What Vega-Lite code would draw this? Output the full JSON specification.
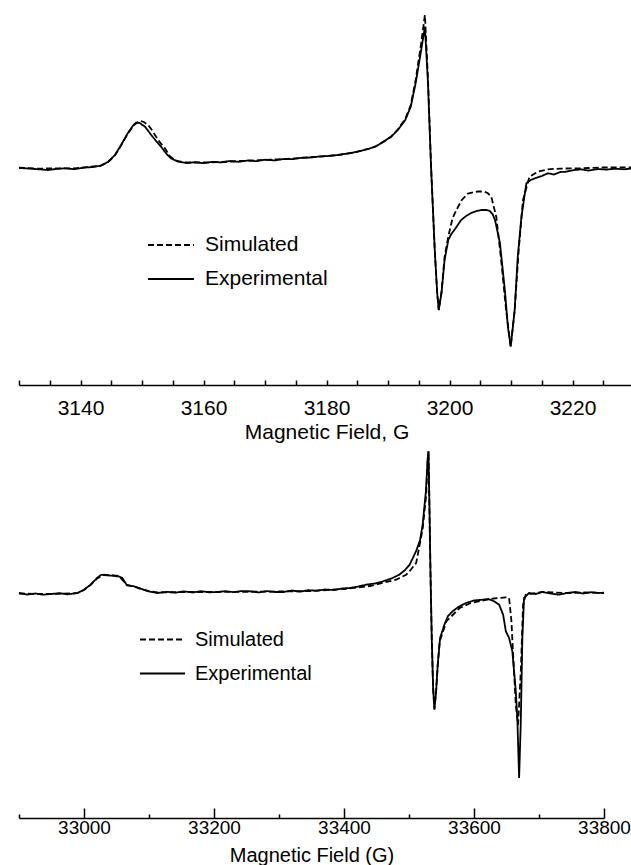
{
  "$schema": "https://vega.github.io/schema/vega-lite/v6.json",
  "padding": 5,
  "background": "white",
  "config": {
    "view": {"stroke": null},
    "font": "Liberation Sans",
    "axis": {"labelColor": "black", "titleColor": "black", "domainColor": "black", "tickColor": "black", "grid": false, "titleFontWeight": "normal", "labelFlush": false, "labelOverlap": false, "labelBound": false}
  },
  "datasets": {
    "top": [
      {"s": "Experimental", "x": 3130, "y": 0},
      {"s": "Experimental", "x": 3131.5, "y": -0.5},
      {"s": "Experimental", "x": 3133, "y": -1.2},
      {"s": "Experimental", "x": 3134.7, "y": -2},
      {"s": "Experimental", "x": 3136, "y": -1},
      {"s": "Experimental", "x": 3137.5, "y": -0.3},
      {"s": "Experimental", "x": 3139, "y": -1.2},
      {"s": "Experimental", "x": 3140.5, "y": 0.3},
      {"s": "Experimental", "x": 3142, "y": 1},
      {"s": "Experimental", "x": 3143.3, "y": 2.3},
      {"s": "Experimental", "x": 3144.5, "y": 6.3},
      {"s": "Experimental", "x": 3145.6, "y": 13},
      {"s": "Experimental", "x": 3146.6, "y": 23},
      {"s": "Experimental", "x": 3147.7, "y": 35},
      {"s": "Experimental", "x": 3148.5, "y": 42},
      {"s": "Experimental", "x": 3149, "y": 45.3},
      {"s": "Experimental", "x": 3149.6, "y": 45},
      {"s": "Experimental", "x": 3150.5, "y": 41.3},
      {"s": "Experimental", "x": 3151.5, "y": 33},
      {"s": "Experimental", "x": 3152.3, "y": 27},
      {"s": "Experimental", "x": 3153.1, "y": 21.3},
      {"s": "Experimental", "x": 3154, "y": 14},
      {"s": "Experimental", "x": 3154.7, "y": 9.7},
      {"s": "Experimental", "x": 3155.9, "y": 6.3},
      {"s": "Experimental", "x": 3157.3, "y": 5},
      {"s": "Experimental", "x": 3158.6, "y": 5.8},
      {"s": "Experimental", "x": 3160, "y": 4.8},
      {"s": "Experimental", "x": 3161.5, "y": 6.2},
      {"s": "Experimental", "x": 3162.9, "y": 5.6},
      {"s": "Experimental", "x": 3164.3, "y": 7},
      {"s": "Experimental", "x": 3165.7, "y": 6.2},
      {"s": "Experimental", "x": 3167.2, "y": 7.5},
      {"s": "Experimental", "x": 3168.6, "y": 6.8},
      {"s": "Experimental", "x": 3170, "y": 8.3},
      {"s": "Experimental", "x": 3171.6, "y": 7.6},
      {"s": "Experimental", "x": 3173, "y": 9},
      {"s": "Experimental", "x": 3174.4, "y": 8.8},
      {"s": "Experimental", "x": 3175.9, "y": 10.2},
      {"s": "Experimental", "x": 3177.3, "y": 10.5},
      {"s": "Experimental", "x": 3178.8, "y": 11.5},
      {"s": "Experimental", "x": 3180.2, "y": 12},
      {"s": "Experimental", "x": 3181.3, "y": 12.6},
      {"s": "Experimental", "x": 3182.4, "y": 13.5},
      {"s": "Experimental", "x": 3184, "y": 15},
      {"s": "Experimental", "x": 3185.5, "y": 17},
      {"s": "Experimental", "x": 3187, "y": 19.5},
      {"s": "Experimental", "x": 3187.9, "y": 21.3},
      {"s": "Experimental", "x": 3189.2, "y": 26},
      {"s": "Experimental", "x": 3190.5, "y": 31.3},
      {"s": "Experimental", "x": 3191.6, "y": 38},
      {"s": "Experimental", "x": 3192.8, "y": 48},
      {"s": "Experimental", "x": 3193.7, "y": 61.3},
      {"s": "Experimental", "x": 3194.5, "y": 85},
      {"s": "Experimental", "x": 3195.4, "y": 118},
      {"s": "Experimental", "x": 3196, "y": 141.3},
      {"s": "Experimental", "x": 3196.5, "y": 85},
      {"s": "Experimental", "x": 3197, "y": 1},
      {"s": "Experimental", "x": 3197.6, "y": -82},
      {"s": "Experimental", "x": 3198, "y": -125},
      {"s": "Experimental", "x": 3198.25, "y": -142},
      {"s": "Experimental", "x": 3198.7, "y": -125},
      {"s": "Experimental", "x": 3199.2, "y": -92},
      {"s": "Experimental", "x": 3199.8, "y": -72},
      {"s": "Experimental", "x": 3200.3, "y": -66},
      {"s": "Experimental", "x": 3200.9, "y": -61},
      {"s": "Experimental", "x": 3201.9, "y": -52},
      {"s": "Experimental", "x": 3202.7, "y": -48},
      {"s": "Experimental", "x": 3203.5, "y": -45},
      {"s": "Experimental", "x": 3204.4, "y": -43},
      {"s": "Experimental", "x": 3205.2, "y": -42},
      {"s": "Experimental", "x": 3206, "y": -42},
      {"s": "Experimental", "x": 3206.5, "y": -42.7},
      {"s": "Experimental", "x": 3207, "y": -46},
      {"s": "Experimental", "x": 3207.4, "y": -52},
      {"s": "Experimental", "x": 3208.2, "y": -75},
      {"s": "Experimental", "x": 3209, "y": -122},
      {"s": "Experimental", "x": 3209.5, "y": -159},
      {"s": "Experimental", "x": 3209.95, "y": -178.7},
      {"s": "Experimental", "x": 3210.6, "y": -142},
      {"s": "Experimental", "x": 3211.1, "y": -88.7},
      {"s": "Experimental", "x": 3211.7, "y": -48.7},
      {"s": "Experimental", "x": 3212.5, "y": -15.3},
      {"s": "Experimental", "x": 3213.2, "y": -12},
      {"s": "Experimental", "x": 3213.9, "y": -10.3},
      {"s": "Experimental", "x": 3215, "y": -8},
      {"s": "Experimental", "x": 3216, "y": -5.3},
      {"s": "Experimental", "x": 3217, "y": -6.5},
      {"s": "Experimental", "x": 3218, "y": -4},
      {"s": "Experimental", "x": 3219, "y": -3.7},
      {"s": "Experimental", "x": 3220, "y": -2.3},
      {"s": "Experimental", "x": 3221.4, "y": -1.3},
      {"s": "Experimental", "x": 3222.6, "y": -2.6},
      {"s": "Experimental", "x": 3224.1, "y": -1},
      {"s": "Experimental", "x": 3225.5, "y": -1.6},
      {"s": "Experimental", "x": 3226.9, "y": -0.7},
      {"s": "Experimental", "x": 3228.4, "y": -1.3},
      {"s": "Experimental", "x": 3230, "y": -0.3},
      {"s": "Simulated", "x": 3130, "y": 0.3},
      {"s": "Simulated", "x": 3133, "y": -0.6},
      {"s": "Simulated", "x": 3136, "y": -0.4},
      {"s": "Simulated", "x": 3139, "y": -0.3},
      {"s": "Simulated", "x": 3141, "y": 0.8},
      {"s": "Simulated", "x": 3143.3, "y": 2.3},
      {"s": "Simulated", "x": 3144.5, "y": 6},
      {"s": "Simulated", "x": 3145.6, "y": 12.5},
      {"s": "Simulated", "x": 3146.6, "y": 22.5},
      {"s": "Simulated", "x": 3147.7, "y": 34.5},
      {"s": "Simulated", "x": 3148.7, "y": 43},
      {"s": "Simulated", "x": 3149.6, "y": 47.3},
      {"s": "Simulated", "x": 3150.3, "y": 46},
      {"s": "Simulated", "x": 3151, "y": 43},
      {"s": "Simulated", "x": 3151.6, "y": 38},
      {"s": "Simulated", "x": 3152.3, "y": 31.3},
      {"s": "Simulated", "x": 3153, "y": 25},
      {"s": "Simulated", "x": 3153.7, "y": 20},
      {"s": "Simulated", "x": 3154.5, "y": 12},
      {"s": "Simulated", "x": 3155.5, "y": 7.5},
      {"s": "Simulated", "x": 3157, "y": 5.5},
      {"s": "Simulated", "x": 3160, "y": 5.5},
      {"s": "Simulated", "x": 3163, "y": 6},
      {"s": "Simulated", "x": 3166, "y": 7},
      {"s": "Simulated", "x": 3169, "y": 7.8},
      {"s": "Simulated", "x": 3172, "y": 8.6},
      {"s": "Simulated", "x": 3175, "y": 9.6},
      {"s": "Simulated", "x": 3178, "y": 11},
      {"s": "Simulated", "x": 3180.2, "y": 12},
      {"s": "Simulated", "x": 3182.4, "y": 13.5},
      {"s": "Simulated", "x": 3184, "y": 15},
      {"s": "Simulated", "x": 3185.5, "y": 17},
      {"s": "Simulated", "x": 3187, "y": 19.5},
      {"s": "Simulated", "x": 3187.9, "y": 21.3},
      {"s": "Simulated", "x": 3189.2, "y": 26},
      {"s": "Simulated", "x": 3190.5, "y": 31.3},
      {"s": "Simulated", "x": 3191.6, "y": 38.5},
      {"s": "Simulated", "x": 3192.8, "y": 49},
      {"s": "Simulated", "x": 3193.7, "y": 63},
      {"s": "Simulated", "x": 3194.5, "y": 88},
      {"s": "Simulated", "x": 3195.4, "y": 125},
      {"s": "Simulated", "x": 3196, "y": 153},
      {"s": "Simulated", "x": 3196.5, "y": 90},
      {"s": "Simulated", "x": 3197, "y": 2},
      {"s": "Simulated", "x": 3197.6, "y": -82},
      {"s": "Simulated", "x": 3198, "y": -125},
      {"s": "Simulated", "x": 3198.25, "y": -142},
      {"s": "Simulated", "x": 3198.7, "y": -124},
      {"s": "Simulated", "x": 3199.2, "y": -89},
      {"s": "Simulated", "x": 3199.8, "y": -68.7},
      {"s": "Simulated", "x": 3200.5, "y": -50},
      {"s": "Simulated", "x": 3201.4, "y": -38.7},
      {"s": "Simulated", "x": 3202, "y": -32},
      {"s": "Simulated", "x": 3203, "y": -25.5},
      {"s": "Simulated", "x": 3204.6, "y": -23.5},
      {"s": "Simulated", "x": 3205.6, "y": -23.5},
      {"s": "Simulated", "x": 3206.2, "y": -25},
      {"s": "Simulated", "x": 3206.8, "y": -28.7},
      {"s": "Simulated", "x": 3207.6, "y": -48.7},
      {"s": "Simulated", "x": 3208.4, "y": -92},
      {"s": "Simulated", "x": 3209.2, "y": -142},
      {"s": "Simulated", "x": 3209.95, "y": -178.7},
      {"s": "Simulated", "x": 3210.6, "y": -142},
      {"s": "Simulated", "x": 3211.25, "y": -82},
      {"s": "Simulated", "x": 3211.95, "y": -32},
      {"s": "Simulated", "x": 3213, "y": -8.7},
      {"s": "Simulated", "x": 3214.4, "y": -3.7},
      {"s": "Simulated", "x": 3216, "y": -1.3},
      {"s": "Simulated", "x": 3218, "y": -0.6},
      {"s": "Simulated", "x": 3221.4, "y": -0.3},
      {"s": "Simulated", "x": 3225, "y": 0.5},
      {"s": "Simulated", "x": 3230, "y": 0.7}
    ],
    "bottom": [
      {"s": "Experimental", "x": 32900, "y": 2},
      {"s": "Experimental", "x": 32912, "y": 0.5},
      {"s": "Experimental", "x": 32925, "y": 1.5},
      {"s": "Experimental", "x": 32937, "y": 0.3},
      {"s": "Experimental", "x": 32949, "y": 1},
      {"s": "Experimental", "x": 32962, "y": 1.8},
      {"s": "Experimental", "x": 32975, "y": 0.7},
      {"s": "Experimental", "x": 32990, "y": 2},
      {"s": "Experimental", "x": 33000, "y": 5.3},
      {"s": "Experimental", "x": 33010, "y": 10.3},
      {"s": "Experimental", "x": 33020, "y": 17},
      {"s": "Experimental", "x": 33026, "y": 20},
      {"s": "Experimental", "x": 33031, "y": 20.3},
      {"s": "Experimental", "x": 33040, "y": 19.5},
      {"s": "Experimental", "x": 33051, "y": 19.3},
      {"s": "Experimental", "x": 33059, "y": 17},
      {"s": "Experimental", "x": 33066, "y": 9.7},
      {"s": "Experimental", "x": 33077, "y": 8.7},
      {"s": "Experimental", "x": 33092, "y": 5.3},
      {"s": "Experimental", "x": 33100, "y": 3.5},
      {"s": "Experimental", "x": 33113, "y": 2},
      {"s": "Experimental", "x": 33128, "y": 3.2},
      {"s": "Experimental", "x": 33141, "y": 2.3},
      {"s": "Experimental", "x": 33153, "y": 3.7},
      {"s": "Experimental", "x": 33167, "y": 2.5},
      {"s": "Experimental", "x": 33180, "y": 3.8},
      {"s": "Experimental", "x": 33193, "y": 2.7},
      {"s": "Experimental", "x": 33205, "y": 3},
      {"s": "Experimental", "x": 33218, "y": 3.9},
      {"s": "Experimental", "x": 33230, "y": 2.8},
      {"s": "Experimental", "x": 33243, "y": 4},
      {"s": "Experimental", "x": 33256, "y": 3.7},
      {"s": "Experimental", "x": 33269, "y": 2.6},
      {"s": "Experimental", "x": 33281, "y": 3.9},
      {"s": "Experimental", "x": 33294, "y": 3},
      {"s": "Experimental", "x": 33307, "y": 3},
      {"s": "Experimental", "x": 33320, "y": 4.5},
      {"s": "Experimental", "x": 33332, "y": 3.3},
      {"s": "Experimental", "x": 33345, "y": 4.8},
      {"s": "Experimental", "x": 33358, "y": 4.3},
      {"s": "Experimental", "x": 33371, "y": 5.5},
      {"s": "Experimental", "x": 33384, "y": 5},
      {"s": "Experimental", "x": 33397, "y": 6.5},
      {"s": "Experimental", "x": 33409, "y": 7},
      {"s": "Experimental", "x": 33422, "y": 8.5},
      {"s": "Experimental", "x": 33434, "y": 10.3},
      {"s": "Experimental", "x": 33447, "y": 11.5},
      {"s": "Experimental", "x": 33460, "y": 13.7},
      {"s": "Experimental", "x": 33473, "y": 16.5},
      {"s": "Experimental", "x": 33485, "y": 20.3},
      {"s": "Experimental", "x": 33494, "y": 25},
      {"s": "Experimental", "x": 33501, "y": 30.3},
      {"s": "Experimental", "x": 33511, "y": 44},
      {"s": "Experimental", "x": 33517, "y": 55},
      {"s": "Experimental", "x": 33521, "y": 70.3},
      {"s": "Experimental", "x": 33526, "y": 103.7},
      {"s": "Experimental", "x": 33528.8, "y": 137},
      {"s": "Experimental", "x": 33530, "y": 143.7},
      {"s": "Experimental", "x": 33531.4, "y": 90.3},
      {"s": "Experimental", "x": 33533, "y": 24},
      {"s": "Experimental", "x": 33535, "y": -43},
      {"s": "Experimental", "x": 33537.1, "y": -93},
      {"s": "Experimental", "x": 33539.1, "y": -114.7},
      {"s": "Experimental", "x": 33541.7, "y": -96.3},
      {"s": "Experimental", "x": 33544.2, "y": -69.7},
      {"s": "Experimental", "x": 33547.8, "y": -43},
      {"s": "Experimental", "x": 33554.4, "y": -29.7},
      {"s": "Experimental", "x": 33560, "y": -21},
      {"s": "Experimental", "x": 33567.1, "y": -16.3},
      {"s": "Experimental", "x": 33577, "y": -11.5},
      {"s": "Experimental", "x": 33587.7, "y": -8},
      {"s": "Experimental", "x": 33600, "y": -5.5},
      {"s": "Experimental", "x": 33613, "y": -4.7},
      {"s": "Experimental", "x": 33622, "y": -4},
      {"s": "Experimental", "x": 33631, "y": -6.3},
      {"s": "Experimental", "x": 33638.7, "y": -9.7},
      {"s": "Experimental", "x": 33644.8, "y": -19.7},
      {"s": "Experimental", "x": 33649, "y": -36.3},
      {"s": "Experimental", "x": 33654, "y": -43},
      {"s": "Experimental", "x": 33659, "y": -56.3},
      {"s": "Experimental", "x": 33664.3, "y": -96.3},
      {"s": "Experimental", "x": 33666.8, "y": -126.3},
      {"s": "Experimental", "x": 33669.4, "y": -183},
      {"s": "Experimental", "x": 33672, "y": -126.3},
      {"s": "Experimental", "x": 33674.4, "y": -43},
      {"s": "Experimental", "x": 33677, "y": -3},
      {"s": "Experimental", "x": 33684.7, "y": 2},
      {"s": "Experimental", "x": 33695, "y": 1},
      {"s": "Experimental", "x": 33705, "y": 3},
      {"s": "Experimental", "x": 33718, "y": 1.5},
      {"s": "Experimental", "x": 33730.6, "y": 0.3},
      {"s": "Experimental", "x": 33743, "y": 2},
      {"s": "Experimental", "x": 33756, "y": 3},
      {"s": "Experimental", "x": 33768, "y": 1.5},
      {"s": "Experimental", "x": 33780, "y": 2.8},
      {"s": "Experimental", "x": 33792, "y": 2},
      {"s": "Experimental", "x": 33800, "y": 2.3},
      {"s": "Simulated", "x": 32900, "y": 1.5},
      {"s": "Simulated", "x": 32930, "y": 1},
      {"s": "Simulated", "x": 32960, "y": 1.2},
      {"s": "Simulated", "x": 32990, "y": 1.8},
      {"s": "Simulated", "x": 33000, "y": 5},
      {"s": "Simulated", "x": 33010, "y": 10},
      {"s": "Simulated", "x": 33020, "y": 16.5},
      {"s": "Simulated", "x": 33030, "y": 20},
      {"s": "Simulated", "x": 33045, "y": 19.5},
      {"s": "Simulated", "x": 33055, "y": 18},
      {"s": "Simulated", "x": 33066, "y": 10},
      {"s": "Simulated", "x": 33077, "y": 8.5},
      {"s": "Simulated", "x": 33092, "y": 5},
      {"s": "Simulated", "x": 33113, "y": 2.5},
      {"s": "Simulated", "x": 33150, "y": 3},
      {"s": "Simulated", "x": 33200, "y": 3},
      {"s": "Simulated", "x": 33250, "y": 3.2},
      {"s": "Simulated", "x": 33300, "y": 3.5},
      {"s": "Simulated", "x": 33350, "y": 4},
      {"s": "Simulated", "x": 33400, "y": 6},
      {"s": "Simulated", "x": 33440, "y": 9},
      {"s": "Simulated", "x": 33480, "y": 15.3},
      {"s": "Simulated", "x": 33495.7, "y": 20.3},
      {"s": "Simulated", "x": 33500.8, "y": 23.7},
      {"s": "Simulated", "x": 33511, "y": 32},
      {"s": "Simulated", "x": 33513.5, "y": 40.3},
      {"s": "Simulated", "x": 33521.2, "y": 67},
      {"s": "Simulated", "x": 33526.4, "y": 100},
      {"s": "Simulated", "x": 33528.8, "y": 135},
      {"s": "Simulated", "x": 33530, "y": 143.7},
      {"s": "Simulated", "x": 33531.4, "y": 90.3},
      {"s": "Simulated", "x": 33533, "y": 24},
      {"s": "Simulated", "x": 33535, "y": -43},
      {"s": "Simulated", "x": 33537.1, "y": -93},
      {"s": "Simulated", "x": 33539.1, "y": -114},
      {"s": "Simulated", "x": 33541.7, "y": -96},
      {"s": "Simulated", "x": 33544.2, "y": -70},
      {"s": "Simulated", "x": 33547.3, "y": -46.3},
      {"s": "Simulated", "x": 33557.5, "y": -26.3},
      {"s": "Simulated", "x": 33577.9, "y": -13},
      {"s": "Simulated", "x": 33595, "y": -8},
      {"s": "Simulated", "x": 33613.1, "y": -5.7},
      {"s": "Simulated", "x": 33630, "y": -3.5},
      {"s": "Simulated", "x": 33649, "y": -2.3},
      {"s": "Simulated", "x": 33654, "y": -3},
      {"s": "Simulated", "x": 33657.6, "y": -26.3},
      {"s": "Simulated", "x": 33660.2, "y": -59.7},
      {"s": "Simulated", "x": 33664.3, "y": -109.7},
      {"s": "Simulated", "x": 33667.8, "y": -129.7},
      {"s": "Simulated", "x": 33672, "y": -76.3},
      {"s": "Simulated", "x": 33675.5, "y": -9.7},
      {"s": "Simulated", "x": 33679.6, "y": 0.3},
      {"s": "Simulated", "x": 33705, "y": 3},
      {"s": "Simulated", "x": 33740, "y": 2},
      {"s": "Simulated", "x": 33770, "y": 2.5},
      {"s": "Simulated", "x": 33800, "y": 2}
    ]
  },
  "concat": [
    {
      "width": 615,
      "height": 380,
      "data": {"name": "top"},
      "mark": {"type": "line", "color": "black", "strokeWidth": 1.8},
      "encoding": {
        "x": {
          "field": "x", "type": "quantitative",
          "scale": {"domain": [3130, 3230], "nice": false, "zero": false},
          "axis": {
            "title": "Magnetic Field, G", "titleFontSize": 21, "labelFontSize": 21,
            "values": [3130, 3135, 3140, 3145, 3150, 3155, 3160, 3165, 3170, 3175, 3180, 3185, 3190, 3195, 3200, 3205, 3210, 3215, 3220, 3225, 3230],
            "labelExpr": "datum.value % 20 == 0 ? datum.label : ''",
            "format": "d", "tickSize": -5, "labelPadding": 17, "titlePadding": 3, "domainWidth": 1.5, "tickWidth": 1.5
          }
        },
        "y": {
          "field": "y", "type": "quantitative",
          "scale": {"domain": [-217, 163], "nice": false, "zero": false},
          "axis": {"title": null, "labels": false, "domain": false, "grid": false, "ticks": true, "tickSize": 6, "tickColor": "transparent", "values": [0]}
        },
        "strokeDash": {
          "field": "s", "type": "nominal",
          "scale": {"domain": ["Simulated", "Experimental"], "range": [[6, 3], [1, 0]]},
          "legend": {"orient": "none", "legendX": 128, "legendY": 216, "title": null, "symbolType": "stroke", "symbolSize": 2116, "symbolStrokeWidth": 1.8, "symbolStrokeColor": "black", "labelFontSize": 21, "labelColor": "black", "labelOffset": 10, "rowPadding": -9, "padding": 0}
        }
      }
    },
    {
      "width": 585,
      "height": 372,
      "data": {"name": "bottom"},
      "mark": {"type": "line", "color": "black", "strokeWidth": 1.8},
      "encoding": {
        "x": {
          "field": "x", "type": "quantitative",
          "scale": {"domain": [32900, 33800], "nice": false, "zero": false},
          "axis": {
            "title": "Magnetic Field (G)", "titleFontSize": 20, "labelFontSize": 19,
            "values": [32900, 33000, 33100, 33200, 33300, 33400, 33500, 33600, 33700, 33800],
            "labelExpr": "datum.value % 200 == 0 ? datum.label : ''",
            "format": "d",
            "tickSize": {"condition": {"test": "datum.value % 200 == 0", "value": -10}, "value": -4},
            "labelPadding": 10, "titlePadding": 2, "domainWidth": 1.5, "tickWidth": 1.5
          }
        },
        "y": {
          "field": "y", "type": "quantitative",
          "scale": {"domain": [-223, 149], "nice": false, "zero": false},
          "axis": {"title": null, "labels": false, "domain": false, "grid": false, "ticks": true, "tickSize": 13, "tickColor": "transparent", "values": [0]}
        },
        "strokeDash": {
          "field": "s", "type": "nominal",
          "scale": {"domain": ["Simulated", "Experimental"], "range": [[6, 3], [1, 0]]},
          "legend": {"orient": "none", "legendX": 120, "legendY": 170, "title": null, "symbolType": "stroke", "symbolSize": 2025, "symbolStrokeWidth": 1.8, "symbolStrokeColor": "black", "labelFontSize": 20, "labelColor": "black", "labelOffset": 9, "rowPadding": -14, "padding": 0}
        }
      }
    }
  ],
  "columns": 1,
  "align": "none",
  "spacing": 4,
  "resolve": {
    "scale": {"x": "independent", "y": "independent", "strokeDash": "independent"},
    "axis": {"x": "independent", "y": "independent"},
    "legend": {"strokeDash": "independent"}
  }
}
